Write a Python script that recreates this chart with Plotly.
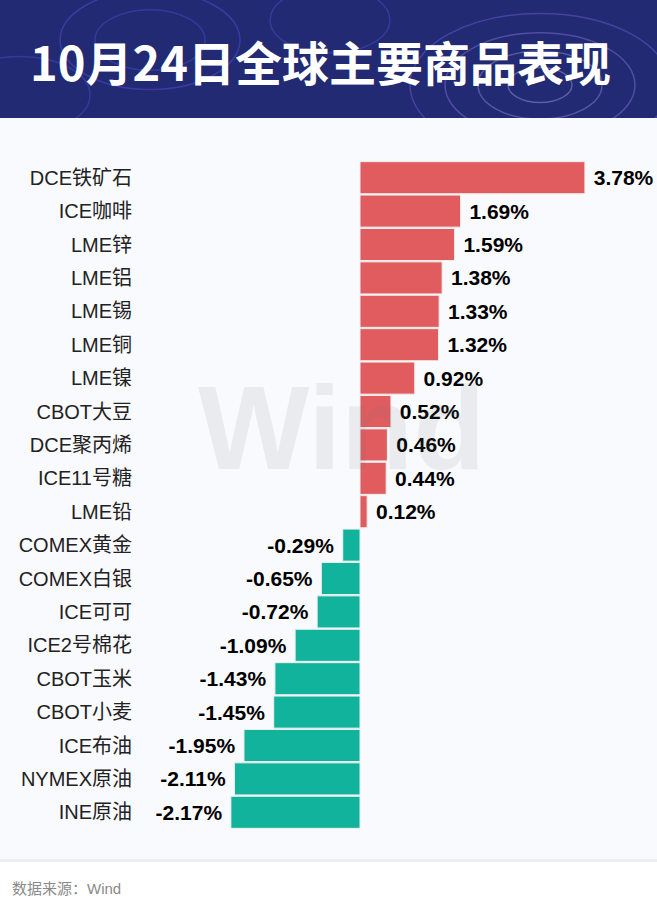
import plotly.graph_objects as go

# data
names = ['DCE铁矿石', 'ICE咖啡', 'LME锌', 'LME铝', 'LME锡', 'LME铜', 'LME镍',
         'CBOT大豆', 'DCE聚丙烯', 'ICE11号糖', 'LME铅', 'COMEX黄金', 'COMEX白银',
         'ICE可可', 'ICE2号棉花', 'CBOT玉米', 'CBOT小麦', 'ICE布油', 'NYMEX原油', 'INE原油']
pct = [3.78, 1.69, 1.59, 1.38, 1.33, 1.32, 0.92, 0.52, 0.46, 0.44, 0.12,
       -0.29, -0.65, -0.72, -1.09, -1.43, -1.45, -1.95, -2.11, -2.17]

title = '10月24日全球主要商品表现'
source = '数据来源：Wind'

RED = '#e05c5e'
TEAL = '#11b39c'
W, H = 657, 912
ml, mr, mt, mb = 140, 0, 161, 83

colors = [RED if v >= 0 else TEAL for v in pct]
# a space on the outer side gives the wider gap seen between bar and label
labels = [(' {:.2f}%' if v >= 0 else '{:.2f}% ').format(v) for v in pct]

fig = go.Figure()
fig.add_trace(go.Bar(
    x=pct, y=names, orientation='h',
    marker=dict(color=colors, line=dict(color='#eeeeee', width=1)),
    text=labels, textposition='outside', constraintext='none', cliponaxis=False,
    textfont=dict(family='Liberation Sans, Arial', size=21, color='#000000', weight='bold'),
    width=0.96, hoverinfo='skip',
))

# pixel -> paper helpers for the decoration
pw, ph = W - ml - mr, H - mt - mb
def px(x): return (x - ml) / pw
def py(y): return (H - mb - y) / ph

shapes = [
    # light panel
    dict(type='rect', xref='paper', yref='paper', x0=px(0), x1=px(W), y0=py(862), y1=py(118),
         fillcolor='#ebedf0', line_width=0, layer='below'),
    dict(type='rect', xref='paper', yref='paper', x0=px(0), x1=px(W), y0=py(859), y1=py(118),
         fillcolor='#f9fafd', line_width=0, layer='below'),
    # header band
    dict(type='rect', xref='paper', yref='paper', x0=px(0), x1=px(W), y0=py(118), y1=py(0),
         fillcolor='#212a72', line_width=0, layer='below'),
]
# faint contour rings in the header
rings = [(540, 85, 130, 'rgba(140,110,255,0.35)'), (540, 85, 95, 'rgba(170,140,255,0.35)'),
         (540, 85, 62, 'rgba(190,170,255,0.35)'), (540, 85, 32, 'rgba(210,190,255,0.35)'),
         (150, 40, 90, 'rgba(110,90,255,0.35)'), (150, 40, 55, 'rgba(110,90,255,0.3)'),
         (330, 20, 60, 'rgba(120,90,255,0.3)'), (20, 95, 70, 'rgba(110,90,255,0.3)')]
for cx, cy, r, c in rings:
    shapes.append(dict(type='circle', xref='paper', yref='paper',
                       x0=px(cx - r), x1=px(cx + r), y0=py(cy + r * 0.55), y1=py(cy - r * 0.55),
                       line=dict(color=c, width=1.5), layer='below'))
# cover anything of the rings that leaks below the header
shapes.append(dict(type='rect', xref='paper', yref='paper', x0=px(0), x1=px(W), y0=py(230), y1=py(118),
                   fillcolor='#f9fafd', line_width=0, layer='below'))

annotations = [
    dict(text=title, xref='paper', yref='paper', x=px(320), y=py(60), showarrow=False,
         font=dict(family='Noto Sans CJK SC', size=47, color='white', weight='bold'),
         xanchor='center', yanchor='middle'),
    dict(text='Wind', xref='paper', yref='paper', x=px(341), y=py(428), showarrow=False,
         font=dict(family='Liberation Sans, Arial', size=118, color='rgba(120,120,130,0.11)', weight='bold'),
         xanchor='center', yanchor='middle'),
    dict(text=source, xref='paper', yref='paper', x=px(10), y=py(888), showarrow=False,
         font=dict(family='Liberation Sans, Noto Sans CJK SC', size=15, color='#8a8a8a'),
         xanchor='left', yanchor='middle'),
]

fig.update_layout(
    width=W, height=H,
    margin=dict(l=ml, r=mr, t=mt, b=mb),
    paper_bgcolor='white', plot_bgcolor='rgba(0,0,0,0)',
    showlegend=False, bargap=0.04,
    shapes=shapes, annotations=annotations,
    font=dict(family='Noto Sans CJK SC'),
)
fig.update_xaxes(range=[(ml - 360) / 59.5, (W - mr - 360) / 59.5], visible=False, fixedrange=True)
fig.update_yaxes(categoryorder='array', categoryarray=names, range=[len(names) - 0.5, -0.5],
                 showgrid=False, zeroline=False, showline=False, ticks='', ticklabelstandoff=7,
                 tickfont=dict(family='Liberation Sans, Noto Sans CJK SC', size=20, color='#222222'),
                 fixedrange=True)

fig.write_html('out.html', config={'displayModeBar': False},
               post_script="document.body.style.margin='0';document.body.style.overflow='hidden';")
